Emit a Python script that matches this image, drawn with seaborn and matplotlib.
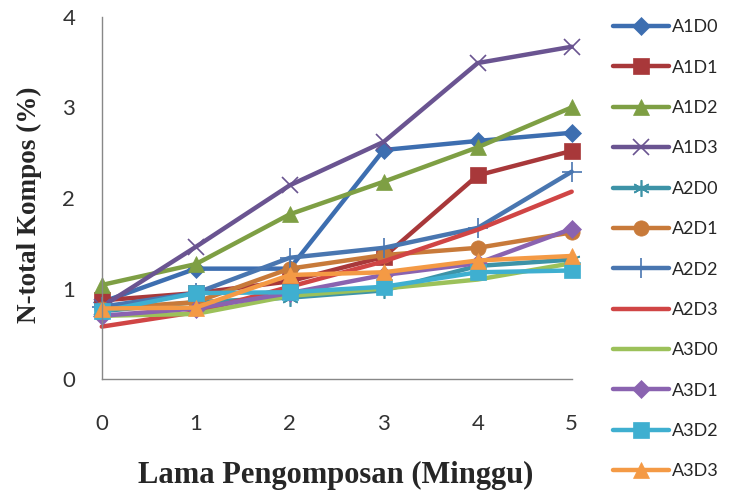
import matplotlib
matplotlib.use("Agg")
import matplotlib.pyplot as plt
import seaborn as sns
import pandas as pd

weeks = [0, 1, 2, 3, 4, 5]
series_names = ["A1D0", "A1D1", "A1D2", "A1D3", "A2D0", "A2D1",
                "A2D2", "A2D3", "A3D0", "A3D1", "A3D2", "A3D3"]
A1D0 = [0.85, 1.22, 1.22, 2.53, 2.63, 2.72]
A1D1 = [0.87, 0.95, 1.08, 1.35, 2.25, 2.52]
A1D2 = [1.04, 1.27, 1.82, 2.18, 2.56, 3.00]
A1D3 = [0.80, 1.46, 2.14, 2.62, 3.49, 3.67]
A2D0 = [0.75, 0.85, 0.90, 0.98, 1.25, 1.32]
A2D1 = [0.78, 0.85, 1.22, 1.37, 1.45, 1.62]
A2D2 = [0.80, 0.95, 1.34, 1.45, 1.67, 2.29]
A2D3 = [0.58, 0.74, 1.02, 1.30, 1.65, 2.07]
A3D0 = [0.70, 0.72, 0.92, 1.00, 1.10, 1.28]
A3D1 = [0.70, 0.78, 0.95, 1.15, 1.28, 1.66]
A3D2 = [0.75, 0.95, 0.96, 1.02, 1.18, 1.20]
A3D3 = [0.78, 0.79, 1.15, 1.18, 1.31, 1.36]
values = [A1D0, A1D1, A1D2, A1D3, A2D0, A2D1, A2D2, A2D3, A3D0, A3D1, A3D2, A3D3]

colors = ["#3D6EB0", "#A8383A", "#7E9F44", "#6A5491", "#3D93A7", "#C87A3A",
          "#4976B0", "#D04545", "#9CC15A", "#8A63B0", "#3FAFD0", "#F49A45"]
markers = ["D", "s", "^", "x", (6, 2, 0), "o", "+", None, None, "D", "s", "^"]
msizes = [9, 11, 11, 12, 12, 11, 14, 0, 0, 9, 11, 11]

sns.set_style("white")
plt.rcParams['font.family'] = ['Lato', 'DejaVu Sans']

fig = plt.figure(figsize=(7.32, 4.95), dpi=100)
ax = fig.add_axes([0.139, 0.234, 0.642, 0.732])

for name, vals, c, m, ms in zip(series_names, values, colors, markers, msizes):
    df = pd.DataFrame({"week": weeks, "val": vals})
    kw = dict(color=c, linewidth=3.2, label=name, ax=ax, clip_on=False)
    if m is not None:
        kw.update(marker=m, markersize=ms, markeredgecolor=c,
                  markeredgewidth=1.2 if m in ("x", "+", (6, 2, 0)) else 0.5)
    sns.lineplot(data=df, x="week", y="val", **kw)

ax.set_xlim(0, 5)
ax.set_ylim(0, 4)
ax.set_xticks(weeks)
ax.set_yticks([0, 1, 2, 3, 4])
ax.tick_params(axis='both', length=0, labelsize=16, colors="#333333")
ax.tick_params(axis='x', pad=25)
ax.tick_params(axis='y', pad=19)
for s in ["top", "right"]:
    ax.spines[s].set_visible(False)
for s in ["left", "bottom"]:
    ax.spines[s].set_color("#888888")
    ax.spines[s].set_linewidth(1.0)

ax.set_xlabel("Lama Pengomposan (Minggu)", fontsize=22, fontweight="bold",
              family="Liberation Serif")
ax.set_ylabel("N-total Kompos (%)", fontsize=19.5, fontweight="bold",
              family="Liberation Serif")
ax.xaxis.set_label_coords(0.498, -0.225)
ax.yaxis.set_label_coords(-0.128, 0.48)

leg = ax.legend(loc="upper left", bbox_to_anchor=(1.072, 1.013), frameon=False,
                fontsize=13, labelspacing=1.35, handlelength=3.1,
                handletextpad=0.2, borderaxespad=0)

fig.savefig("out.png", dpi=100)
